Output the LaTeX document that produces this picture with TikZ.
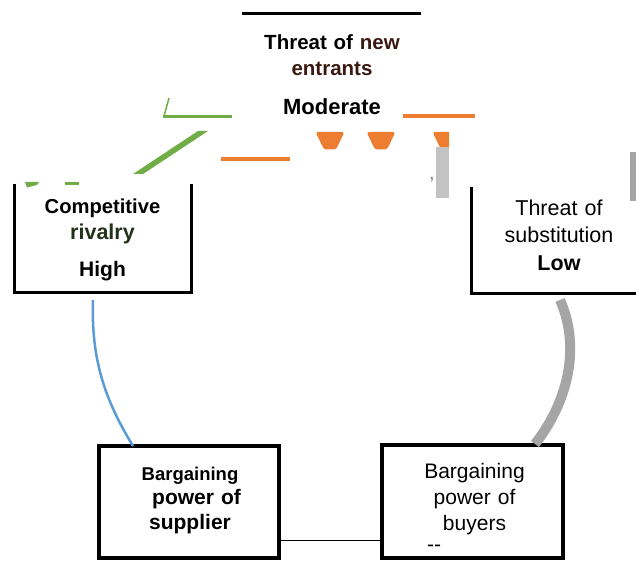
\documentclass[tikz,border=0pt]{standalone}
\usepackage{fontspec}
\setmainfont{Liberation Sans}
\usetikzlibrary{positioning}
\definecolor{entrantbrown}{HTML}{3B1810}
\definecolor{rivalgreen}{HTML}{22331A}
\definecolor{forcegreen}{HTML}{70AD47}
\definecolor{forceorange}{HTML}{ED7D31}
\definecolor{forceblue}{HTML}{5B9BD5}
\definecolor{forcegray}{HTML}{A5A5A5}
\definecolor{lightgray}{HTML}{C3C3C3}

\begin{document}
\begin{tikzpicture}[x=1pt,y=-1pt,
  frame/.style={inner sep=0,outer sep=0,minimum width=#1},
  txt/.style={anchor=base,align=center,inner sep=0,text width=#1},
  bigbold/.style={font=\bfseries\fontsize{20.5}{26}\selectfont},
  bigplain/.style={font=\fontsize{21}{26}\selectfont},
  drop/.style={fill=forceorange,rounded corners=2.5pt}]
\useasboundingbox (0,0) rectangle (636,561);

% boxes
\node[frame=177pt,minimum height=108pt] (rivbox) at (102.5,238) {};
\node[frame=169pt,minimum height=106pt] (subbox) at (555.5,240) {};
\node[frame=180pt,minimum height=112pt,draw,line width=3.5pt] (sup) at (189,502) {};
\node[frame=181pt,minimum height=113pt,draw,line width=3.5pt] (buy) at (472.5,501.5) {};

\draw[line width=3pt] (rivbox.north west) -- (rivbox.south west) -- (rivbox.south east) -- (rivbox.north east);
\draw[line width=3pt] (subbox.north west) -- (subbox.south west) -- (subbox.south east);
\draw[line width=3pt] (242,14) -- (421,14);

% texts
\node[txt=180pt,bigbold] (newtxt) at (332,50)
  {Threat of \textcolor{entrantbrown}{new}\\ \textcolor{entrantbrown}{entrants}\\[13pt] {\fontsize{22}{26}\selectfont Moderate}};
\node[txt=170pt,bigbold,font=\bfseries\fontsize{20.2}{26.5}\selectfont] (rivtxt) at (102.5,213.3)
  {Competitive\\ {\fontsize{21.5}{26.5}\selectfont\textcolor{rivalgreen}{rivalry}}\\[10pt] {\fontsize{21}{26.5}\selectfont High}};
\node[txt=160pt,font=\fontsize{21.5}{27.5}\selectfont] (subtxt) at (559,215)
  {Threat of\\ substitution\\ \textbf{Low}};
\node[txt=170pt,font=\bfseries\fontsize{21}{24.5}\selectfont] (suptxt) at (190,480)
  {{\fontsize{18.5}{24.5}\selectfont Bargaining}\\ \hspace*{13pt}power of\\ supplier};
\node[txt=170pt,bigplain] (buytxt) at (474.5,478.3)
  {Bargaining\\ power of\\ buyers};
\node[anchor=base west,inner sep=0,bigplain] (buydash) at (427,551.5) {{-}{-}};

% connectors
\draw[forceblue,line width=2.5pt] ([xshift=-9.5pt,yshift=-8pt]rivbox.south)
  .. controls +(-2,60) and +(-28,-46) .. ([xshift=-56pt]sup.north);
\draw[forcegray,line width=10pt] ([xshift=4.5pt,yshift=-7pt]subbox.south)
  .. controls +(20,45) and +(35,-45) .. ([xshift=62.5pt,yshift=1pt]buy.north);
\coordinate (tie) at ([yshift=-38pt]sup.east);
\draw[line width=1pt] (tie) -- (tie -| buy.west);

% green pieces
\draw[forcegreen,line width=1.5pt] (169,98) -- (164,116);
\draw[forcegreen,line width=3pt] (163,116.5) -- (232,116.5);
\fill[forcegreen] (198,131) -- (208,131) -- (143,174) -- (133,174) -- cycle;
\fill[forcegreen] (25,182) -- (39,182) -- (37,185) -- (27,187.5) -- cycle;
\draw[forcegreen,line width=2.5pt] (65,183.5) -- (79,183.5);

% orange pieces
\draw[forceorange,line width=4pt] (403,116.3) -- (475,116.3);
\draw[forceorange,line width=4pt] (221,159.5) -- (290,159.5);
\begin{scope}
\clip (0,0) rectangle (449,200);
\foreach \c in {330,381,447}
  \path[drop] (\c-14.5,132) -- (\c+14.5,132) -- (\c+6,149.5) -- (\c-6,149.5) -- cycle;
\end{scope}

% gray pieces
\fill[lightgray] (436,147) rectangle (449,198);
\fill[forcegray] (630,152) rectangle (636,201);
\node[text=gray,anchor=base,inner sep=0,font=\fontsize{20}{20}\selectfont] (comma) at (432,180) {,};
\end{tikzpicture}
\end{document}
